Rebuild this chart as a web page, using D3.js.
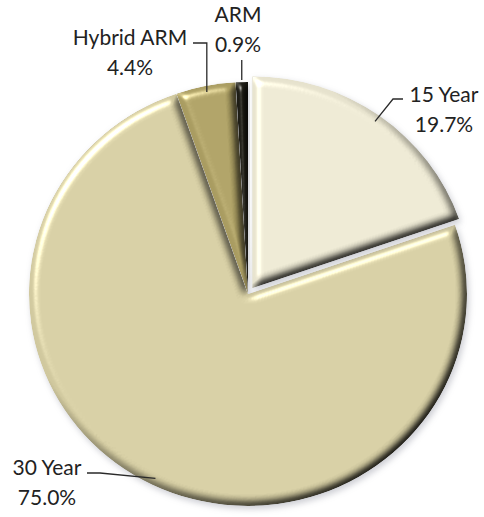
<!DOCTYPE html>
<html>
<head>
<meta charset="utf-8">
<script src="https://cdn.jsdelivr.net/npm/d3@7"></script>
<style>
  html, body { margin: 0; padding: 0; background: #fff; }
  svg { display: block; }
  text { font-family: Lato, "Open Sans", sans-serif; fill: #222; }
</style>
</head>
<body>
<svg id="chart" width="484" height="517"></svg>
<script>
// Mortgage product mix
const categories = ["15 Year", "30 Year", "Hybrid ARM", "ARM"];
const shares = [19.7, 75.0, 4.4, 0.9];
const shareLabels = ["19.7%", "75.0%", "4.4%", "0.9%"];
const sliceColors = ["#e6e2cd", "#d0c89e", "#a99c61", "#1c1b14"];
const explode = [7, 0, 0, 0];

const width = 484, height = 517;
const cx = 248, cy = 294, R = 212, stretchX = 219 / 212;

const svg = d3.select("#chart");
const defs = svg.append("defs");

// soft bevel + drop shadow applied to every slice
defs.append("filter")
  .attr("id", "bevel")
  .attr("x", "-15%").attr("y", "-15%").attr("width", "130%").attr("height", "130%")
  .attr("color-interpolation-filters", "sRGB")
  .html(`
    <feGaussianBlur in="SourceAlpha" stdDeviation="4" result="b"/>
    <feDiffuseLighting in="b" surfaceScale="4.5" diffuseConstant="1.35" lighting-color="#ffffff" result="d">
      <feDistantLight azimuth="225" elevation="48"/>
    </feDiffuseLighting>
    <feComposite in="SourceGraphic" in2="d" operator="arithmetic" k1="1" k2="0" k3="0" k4="0" result="shaded"/>
    <feSpecularLighting in="b" surfaceScale="4.5" specularConstant="0.7" specularExponent="40" lighting-color="#ffffff" result="s">
      <feDistantLight azimuth="225" elevation="48"/>
    </feSpecularLighting>
    <feComposite in="s" in2="SourceAlpha" operator="in" result="sIn"/>
    <feComposite in="shaded" in2="sIn" operator="arithmetic" k1="0" k2="1" k3="0.8" k4="0" result="lit"/>
    <feComposite in="lit" in2="SourceAlpha" operator="in" result="final"/>
    <feGaussianBlur in="SourceAlpha" stdDeviation="3" result="sb"/>
    <feOffset in="sb" dx="2" dy="3" result="so"/>
    <feFlood flood-color="#5a5e70" flood-opacity="0.3"/>
    <feComposite in2="so" operator="in" result="shadow"/>
    <feMerge><feMergeNode in="shadow"/><feMergeNode in="final"/></feMerge>
  `);

const data = categories.map((c, i) => ({
  name: c, value: shares[i], label: shareLabels[i], color: sliceColors[i], explode: explode[i]
}));

const pie = d3.pie().sort(null).value(d => d.value).startAngle(0).endAngle(2 * Math.PI);
const arcs = pie(data);
const arc = d3.arc().innerRadius(0).outerRadius(R);

const midAngle = a => (a.startAngle + a.endAngle) / 2;
const offsetOf = a => {
  const m = midAngle(a);
  return [Math.sin(m) * a.data.explode, -Math.cos(m) * a.data.explode];
};
// point on the rim (screen coords) at a slice's mid angle
const rimPoint = (a, r) => {
  const m = midAngle(a), o = offsetOf(a);
  return [cx + (Math.sin(m) * r + o[0]) * stretchX, cy - Math.cos(m) * r + o[1]];
};

const pieG = svg.append("g")
  .attr("transform", `translate(${cx},${cy}) scale(${stretchX},1)`);

// exploded slice drawn last so its shadow falls on the large slice
const drawOrder = [1, 2, 3, 0];
pieG.selectAll("path.slice")
  .data(drawOrder.map(i => arcs[i]))
  .join("path")
  .attr("class", "slice")
  .attr("d", arc)
  .attr("fill", d => d.data.color)
  .attr("transform", d => { const o = offsetOf(d); return `translate(${o[0]},${o[1]})`; })
  .attr("filter", "url(#bevel)");

// label layout: block centre x, first baseline, elbow/leader points
const layout = {
  "15 Year":    { x: 444, y: 102, rim: 205, leader: p => [p, [393, 99], [403, 99]] },
  "30 Year":    { x: 47,  y: 475, rim: 205, leader: p => [p, [100, 473], [87, 473]] },
  "Hybrid ARM": { x: 130, y: 45,  rim: 206, leader: p => [p, [p[0], 43], [193, 43]] },
  "ARM":        { x: 238, y: 22,  rim: 214, leader: p => [p, [p[0], 60]] }
};

const line = d3.line();
const labelG = svg.append("g");
arcs.forEach(a => {
  const L = layout[a.data.name];
  const p = rimPoint(a, L.rim);
  labelG.append("path")
    .attr("d", line(L.leader(p)))
    .attr("fill", "none")
    .attr("stroke", "#2a2a2a")
    .attr("stroke-width", 1.3);
  const t = labelG.append("text")
    .attr("text-anchor", "middle")
    .attr("font-size", 21);
  t.append("tspan").attr("x", L.x).attr("y", L.y).text(a.data.name);
  t.append("tspan").attr("x", L.x).attr("y", L.y + 30).text(a.data.label);
});
</script>
</body>
</html>
